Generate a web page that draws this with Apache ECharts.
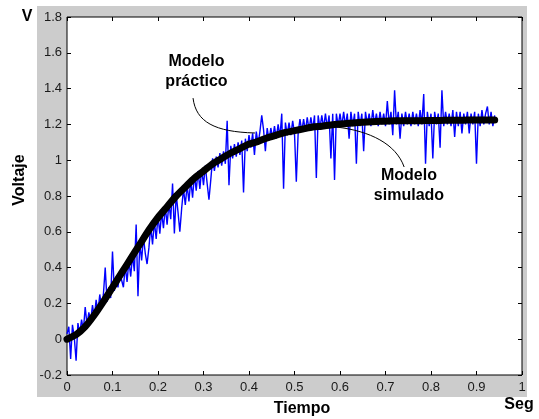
<!DOCTYPE html>
<html>
<head>
<meta charset="utf-8">
<script src="https://cdn.jsdelivr.net/npm/echarts@6/dist/echarts.min.js"></script>
<style>
  html, body { margin: 0; padding: 0; background: #fff; }
  #wrap { position: relative; width: 539px; height: 419px; }
  #panel { position: absolute; left: 37px; top: 6px; width: 490px; height: 391px; background: #cccccc; }
  #chart { position: absolute; left: 0; top: 0; width: 539px; height: 419px; }
</style>
</head>
<body>
<div id="wrap">
  <div id="panel"></div>
  <div id="chart"></div>
</div>
<script>
// Axis ranges and tick spacing
const xTicks = { min: 0, max: 1, step: 0.1 };
const yTicks = { min: -0.2, max: 1.8, step: 0.2 };

// Measured response ("Modelo práctico"), sampled every 4 ms
const sampleStep = 0.004;
const practicalVolts = [
  0.03, 0.07, -0.11, 0.08, 0.01, -0.12, 0.09, 0.03, 0.11, 0.05,
  0.18, 0.08, 0.15, 0.10, 0.19, 0.12, 0.22, 0.15, 0.25, 0.18,
  0.25, 0.40, 0.21, 0.29, 0.23, 0.49, 0.27, 0.34, 0.29, 0.37,
  0.38, 0.29, 0.41, 0.32, 0.44, 0.35, 0.47, 0.38, 0.64, 0.24,
  0.54, 0.44, 0.57, 0.48, 0.42, 0.51, 0.63, 0.53, 0.66, 0.56,
  0.69, 0.59, 0.71, 0.62, 0.74, 0.64, 0.76, 0.67, 0.87, 0.59,
  0.81, 0.71, 0.60, 0.73, 0.84, 0.75, 0.86, 0.77, 0.89, 0.79,
  0.92, 0.83, 0.94, 0.84, 0.95, 0.86, 0.97, 0.87, 0.78, 0.89,
  1.01, 0.94, 1.02, 0.96, 1.04, 0.97, 1.05, 0.98, 1.22, 0.86,
  1.08, 1.01, 1.09, 1.02, 1.10, 1.03, 1.11, 0.82, 1.12, 1.05,
  1.14, 1.07, 1.15, 1.03, 1.16, 1.09, 1.16, 1.25, 1.17, 1.05,
  1.18, 1.11, 1.18, 1.12, 1.19, 1.12, 1.20, 1.13, 1.26, 0.84,
  1.21, 1.14, 1.21, 1.14, 1.22, 1.15, 0.88, 1.15, 1.23, 1.16,
  1.23, 1.16, 1.24, 1.17, 1.24, 1.17, 1.25, 0.90, 1.25, 1.18,
  1.25, 1.18, 1.26, 1.18, 1.25, 1.01, 1.26, 0.89, 1.26, 1.19,
  1.26, 1.19, 1.27, 1.19, 1.26, 1.12, 1.27, 1.19, 1.26, 0.98,
  1.27, 1.19, 1.26, 1.05, 1.27, 1.20, 1.26, 1.19, 1.28, 1.20,
  1.26, 1.19, 1.27, 1.20, 1.26, 1.19, 1.33, 1.20, 1.27, 1.14,
  1.39, 1.20, 1.27, 1.12, 1.26, 1.19, 1.27, 1.20, 1.26, 1.19,
  1.27, 1.20, 1.26, 1.19, 1.28, 1.20, 1.37, 0.98, 1.27, 1.19,
  1.26, 1.01, 1.27, 1.20, 1.26, 1.07, 1.39, 1.19, 1.27, 1.20,
  1.26, 1.19, 1.28, 1.13, 1.27, 1.19, 1.27, 1.15, 1.26, 1.20,
  1.27, 1.15, 1.26, 1.20, 1.27, 0.98, 1.26, 1.19, 1.28, 1.20,
  1.26, 1.30, 1.20, 1.27, 1.19, 1.25
];

// Simulated response ("Modelo simulado")
const simTime = [
  0.00, 0.02, 0.04, 0.06, 0.08, 0.10, 0.12, 0.14, 0.16, 0.18,
  0.20, 0.22, 0.24, 0.26, 0.28, 0.30, 0.32, 0.34, 0.36, 0.38,
  0.40, 0.42, 0.44, 0.46, 0.48, 0.50, 0.52, 0.54, 0.56, 0.58,
  0.60, 0.62, 0.64, 0.66, 0.68, 0.70, 0.72, 0.74, 0.76, 0.78,
  0.80, 0.82, 0.84, 0.86, 0.88, 0.90, 0.92, 0.94
];
const simVolts = [
  0.00, 0.025, 0.07, 0.135, 0.21, 0.29, 0.37, 0.45, 0.53, 0.61,
  0.68, 0.74, 0.80, 0.85, 0.90, 0.94, 0.98, 1.01, 1.04, 1.065,
  1.09, 1.105, 1.125, 1.14, 1.155, 1.165, 1.175, 1.185, 1.19, 1.197,
  1.202, 1.206, 1.21, 1.213, 1.216, 1.218, 1.22, 1.22, 1.221, 1.221,
  1.222, 1.222, 1.223, 1.223, 1.224, 1.224, 1.225, 1.225
];

// Callout labels and their leader curves, in data units [t, V]
const practicalLabel = { text: 'Modelo\npráctico', at: [0.2846, 1.493] };
const practicalLeader = [[0.277, 1.347], [0.2835, 1.213], [0.325, 1.158], [0.413, 1.152]];
const simulatedLabel = { text: 'Modelo\nsimulado', at: [0.7516, 0.856] };
const simulatedLeader = [[0.593, 1.185], [0.666, 1.163], [0.723, 1.091], [0.741, 0.962]];

const tickFont = '"Liberation Sans", Arial, sans-serif';
const boldFont = 'bold 16px "Liberation Sans", Arial, sans-serif';
const calloutFont = 'bold 16px "Liberation Sans", Arial, sans-serif';

const practicalData = practicalVolts.map((v, i) => [i * sampleStep, v]);
const simulatedData = simTime.map((t, i) => [t, simVolts[i]]);

const fmt = v => String(Math.round(v * 10) / 10);

const tickStyle = { show: true, inside: true, length: 4, lineStyle: { color: '#000', width: 1 } };

function valueAxis(range, extra) {
  return Object.assign({
    type: 'value',
    min: range.min,
    max: range.max,
    interval: range.step,
    axisLine: { show: false, onZero: false },
    axisTick: tickStyle,
    splitLine: { show: false },
    axisLabel: { show: false }
  }, extra);
}

const chart = echarts.init(document.getElementById('chart'), null, { renderer: 'canvas' });

chart.setOption({
  backgroundColor: 'transparent',
  animation: false,
  grid: {
    left: 67, right: 17, top: 17, bottom: 44,
    show: true, backgroundColor: '#fff', borderColor: '#000', borderWidth: 1
  },
  xAxis: [
    valueAxis(xTicks, {
      position: 'bottom',
      axisLabel: { show: true, margin: 6, color: '#1a1a1a', fontFamily: tickFont, fontSize: 13, formatter: fmt }
    }),
    valueAxis(xTicks, { position: 'top' })
  ],
  yAxis: [
    valueAxis(yTicks, {
      position: 'left',
      axisLabel: { show: true, margin: 5, color: '#1a1a1a', fontFamily: tickFont, fontSize: 13, formatter: fmt }
    }),
    valueAxis(yTicks, { position: 'right' })
  ],
  series: [
    {
      name: 'Modelo práctico',
      type: 'line',
      data: practicalData,
      showSymbol: false,
      lineStyle: { color: '#0000ff', width: 1.4 },
      z: 2
    },
    {
      name: 'Modelo simulado',
      type: 'line',
      data: simulatedData,
      showSymbol: false,
      smooth: 0.2,
      lineStyle: { color: '#000', width: 7, cap: 'round', join: 'round' },
      z: 3
    }
  ]
});

function px(p) { return chart.convertToPixel({ gridIndex: 0 }, p); }

function leader(points) {
  const [a, b, c, d] = points.map(px);
  return {
    type: 'bezierCurve',
    z: 10,
    shape: { x1: a[0], y1: a[1], cpx1: b[0], cpy1: b[1], cpx2: c[0], cpy2: c[1], x2: d[0], y2: d[1] },
    style: { stroke: '#000', lineWidth: 1, fill: null }
  };
}

function callout(label) {
  const p = px(label.at);
  return {
    type: 'text', z: 10, x: p[0], y: p[1],
    style: { text: label.text, font: calloutFont, fill: '#000', align: 'center', verticalAlign: 'middle', lineHeight: 20 }
  };
}

chart.setOption({
  graphic: [
    leader(practicalLeader),
    leader(simulatedLeader),
    callout(practicalLabel),
    callout(simulatedLabel),
    { type: 'text', x: 27, y: 17, style: { text: 'V', font: boldFont, fill: '#000', align: 'center', verticalAlign: 'middle' } },
    { type: 'text', x: 20, y: 180, rotation: Math.PI / 2,
      style: { text: 'Voltaje', font: boldFont, fill: '#000', align: 'center', verticalAlign: 'middle' } },
    { type: 'text', x: 302, y: 409, style: { text: 'Tiempo', font: boldFont, fill: '#000', align: 'center', verticalAlign: 'middle' } },
    { type: 'text', x: 519, y: 405, style: { text: 'Seg', font: boldFont, fill: '#000', align: 'center', verticalAlign: 'middle' } }
  ]
});
</script>
</body>
</html>
